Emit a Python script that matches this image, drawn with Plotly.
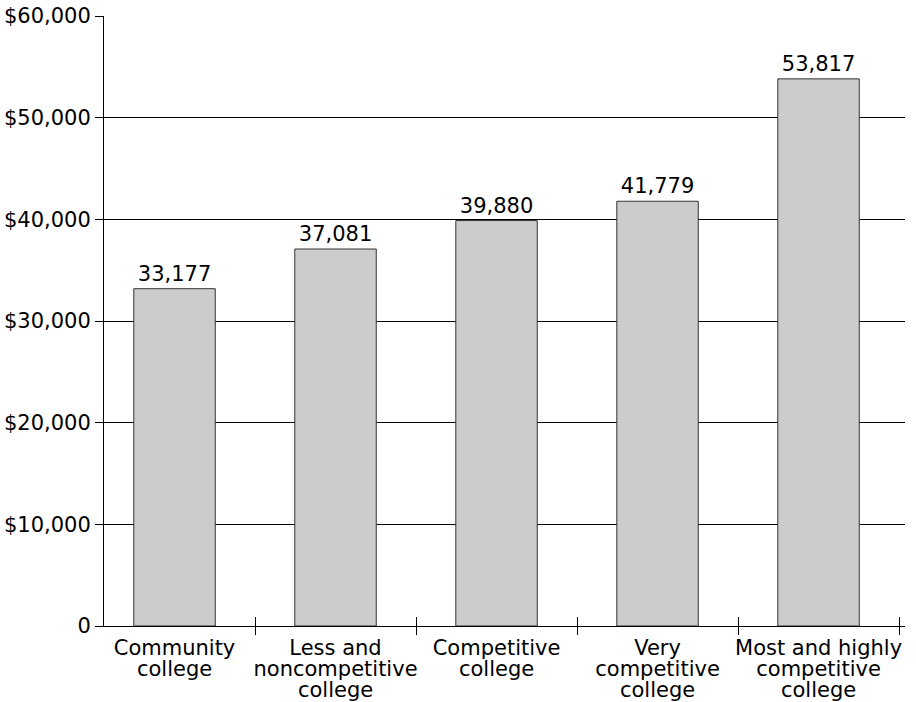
import plotly.graph_objects as go

categories = [
    "Community<br>college",
    "Less and<br>noncompetitive<br>college",
    "Competitive<br>college",
    "Very<br>competitive<br>college",
    "Most and highly<br>competitive<br>college",
]
earnings = [33177, 37081, 39880, 41779, 53817]
y_tick_vals = [0, 10000, 20000, 30000, 40000, 50000, 60000]
y_tick_text = ["0", "$10,000", "$20,000", "$30,000", "$40,000", "$50,000", "$60,000"]

FONT = "DejaVu Sans"
x_range = [-0.438, 4.537]

# glyphs at 21px, line spacing from a 16px base (tight leading like the original)
x_tick_text = [
    "<br>".join('<span style="font-size:21px">%s</span>' % ln for ln in c.split("<br>"))
    for c in categories
]

fig = go.Figure()
fig.add_trace(go.Bar(
    x=categories, y=earnings,
    marker=dict(color="#cccccc", line=dict(color="#333333", width=1)),
    texttemplate="%{y:,}", textposition="outside",
    textfont=dict(family=FONT, size=21, color="black"),
    cliponaxis=False, hoverinfo="skip",
))
# invisible helper trace so the overlay axis (upward tick halves) exists
fig.add_trace(go.Scatter(
    x=categories, y=earnings, xaxis="x2", mode="markers",
    marker=dict(opacity=0), hoverinfo="skip", showlegend=False,
))

fig.update_layout(
    width=916, height=702,
    margin=dict(l=104, r=11, t=16, b=76),
    paper_bgcolor="white", plot_bgcolor="white",
    showlegend=False, bargap=0.494,
    font=dict(family=FONT, color="black"),
    xaxis=dict(
        type="category", categoryarray=categories, range=x_range,
        tickvals=categories, ticktext=x_tick_text, automargin=False,
        tickangle=0, ticklabelstandoff=9,
        showgrid=False, showline=True, linecolor="black", linewidth=1,
        ticks="outside", tickson="boundaries", ticklen=8, tickcolor="black",
        tickwidth=1, tickfont=dict(family=FONT, size=16, color="black"),
        zeroline=False,
    ),
    xaxis2=dict(
        type="category", categoryarray=categories, range=x_range,
        overlaying="x", anchor="y", side="bottom", automargin=False,
        showgrid=False, showline=False, showticklabels=False,
        ticks="inside", tickson="boundaries", ticklen=9, tickcolor="black",
        tickwidth=1, zeroline=False,
    ),
    yaxis=dict(
        range=[0, 60000], tickvals=y_tick_vals, ticktext=y_tick_text,
        automargin=False,
        showgrid=True, gridcolor="black", gridwidth=1,
        showline=True, linecolor="black", linewidth=1,
        ticks="outside", ticklen=8, tickcolor="black", tickwidth=1,
        tickfont=dict(family=FONT, size=21, color="black"),
        zeroline=False,
    ),
)

fig.write_html(
    "out.html",
    config={"displayModeBar": False},
    post_script="document.body.style.margin='0';document.body.style.overflow='hidden';",
)
